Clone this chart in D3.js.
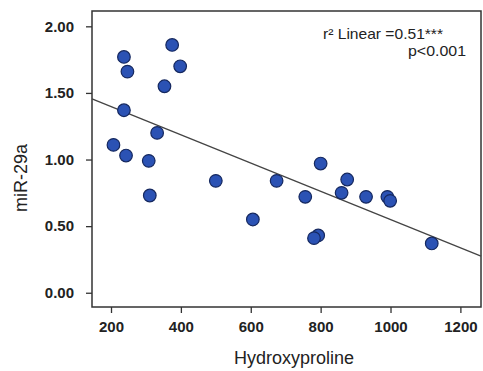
<!DOCTYPE html>
<html>
<head>
<meta charset="utf-8">
<script src="https://cdn.jsdelivr.net/npm/d3@7"></script>
<style>
  html, body { margin: 0; padding: 0; background: #fff; }
  svg { display: block; }
</style>
</head>
<body>
<svg id="chart" width="483" height="371"></svg>
<script>
// ---- data ----
const hydroxyproline = [237, 247, 375, 398, 353, 237, 332, 207, 243, 308, 311, 500,
                        606, 674, 756, 800, 793, 781, 860, 876, 930, 991, 999, 1118];
const mir29a = [1.77, 1.66, 1.86, 1.70, 1.55, 1.37, 1.20, 1.11, 1.03, 0.99, 0.73, 0.84,
                0.55, 0.84, 0.72, 0.97, 0.43, 0.41, 0.75, 0.85, 0.72, 0.72, 0.69, 0.37];
const xTicks = [200, 400, 600, 800, 1000, 1200];
const yTicks = [0.00, 0.50, 1.00, 1.50, 2.00];
// fitted line (intercept, slope) as shown in the figure
const fitLine = [1.610, -0.00106];
const annotation = ["r\u00B2 Linear =0.51***", "p<0.001"];
const xTitle = "Hydroxyproline";
const yTitle = "miR-29a";

// ---- layout ----
const svg = d3.select("#chart");
const L = 92, R = 481, T = 11, B = 307;
const x = d3.scaleLinear().domain([145.6, 1259]).range([L, R]);
const y = d3.scaleLinear().domain([-0.107, 2.115]).range([B, T]);
const font = "Liberation Sans, Arial, Helvetica, sans-serif";

// axes
const xAxis = svg.append("g").attr("transform", `translate(0,${B})`)
  .call(d3.axisBottom(x).tickValues(xTicks).tickSize(6).tickPadding(8).tickFormat(d3.format("d")));
const yAxis = svg.append("g").attr("transform", `translate(${L},0)`)
  .call(d3.axisLeft(y).tickValues(yTicks).tickSize(6).tickPadding(12).tickFormat(d3.format(".2f")));
[xAxis, yAxis].forEach(g => {
  g.select(".domain").remove();
  g.selectAll(".tick line").attr("stroke", "#333").attr("stroke-width", 1.3);
  g.selectAll(".tick text").attr("fill", "#222").attr("font-family", font)
    .attr("font-size", 15).attr("font-weight", "bold");
});

// frame
svg.append("rect").attr("x", L).attr("y", T).attr("width", R - L).attr("height", B - T)
  .attr("fill", "none").attr("stroke", "#333").attr("stroke-width", 1.5);

// regression line
const xd = x.domain();
svg.append("line")
  .attr("x1", x(xd[0])).attr("y1", y(fitLine[0] + fitLine[1] * xd[0]))
  .attr("x2", x(xd[1])).attr("y2", y(fitLine[0] + fitLine[1] * xd[1]))
  .attr("stroke", "#444").attr("stroke-width", 1.3);

// points
svg.append("g").selectAll("circle")
  .data(hydroxyproline.map((h, i) => [h, mir29a[i]]))
  .join("circle")
  .attr("cx", d => x(d[0])).attr("cy", d => y(d[1])).attr("r", 6.3)
  .attr("fill", "#2b52b4").attr("stroke", "#15285f").attr("stroke-width", 1.2);

// annotation
svg.append("text").attr("x", 323).attr("y", 39)
  .attr("textLength", 120).attr("lengthAdjust", "spacingAndGlyphs")
  .attr("font-family", font).attr("font-size", 15).attr("fill", "#222").text(annotation[0]);
svg.append("text").attr("x", 408).attr("y", 56)
  .attr("textLength", 58).attr("lengthAdjust", "spacingAndGlyphs")
  .attr("font-family", font).attr("font-size", 15).attr("fill", "#222").text(annotation[1]);

// titles
svg.append("text").attr("x", 294).attr("y", 364).attr("text-anchor", "middle")
  .attr("font-family", font).attr("font-size", 18).attr("fill", "#222").text(xTitle);
svg.append("text").attr("transform", "translate(27,178) rotate(-90)").attr("text-anchor", "middle")
  .attr("font-family", font).attr("font-size", 18).attr("fill", "#222").text(yTitle);
</script>
</body>
</html>
